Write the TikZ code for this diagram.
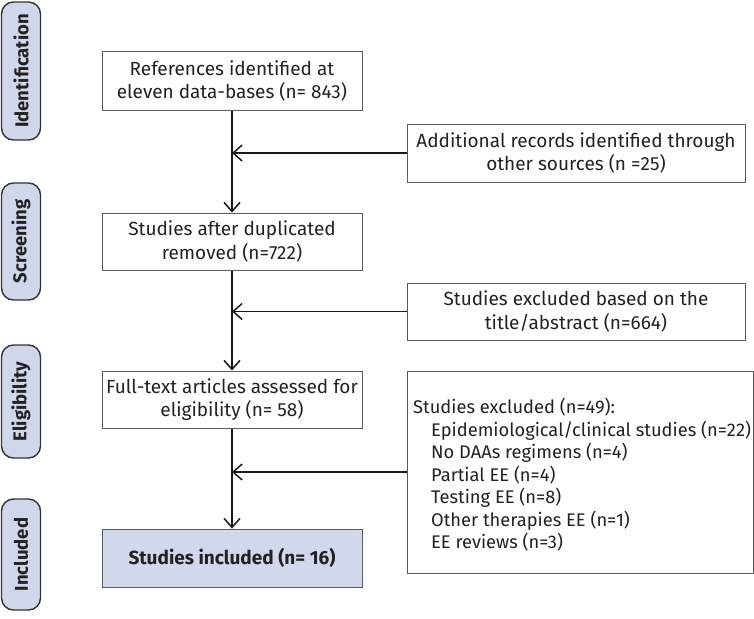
\documentclass[tikz,border=0pt]{standalone}
\usepackage{fontspec}
\setmainfont{Fira Sans}
\usetikzlibrary{arrows.meta}
\definecolor{pillfill}{HTML}{D0D7EB}
\definecolor{incfill}{HTML}{D2D8EC}
\definecolor{boxline}{HTML}{5A5A5A}
\definecolor{txt}{HTML}{222222}
\tikzset{
  pill/.style={draw=black!80, line width=1.4pt, fill=pillfill, rounded corners=12pt,
    minimum width=39pt, inner sep=0pt, text=txt, font=\fontsize{18.5}{20}\selectfont\bfseries},
  flowbox/.style={draw=boxline, line width=1pt, fill=white, inner sep=0pt, align=center,
    text=txt, font=\fontsize{19}{23.5}\selectfont},
  flowarrow/.style={draw=black!90, line width=1.5pt, -{Straight Barb[length=9pt,width=16pt,line width=1.5pt]}},
  flowline/.style={draw=black!90, line width=1.5pt}
}
\begin{document}
\begin{tikzpicture}[x=1pt,y=-1pt]
\useasboundingbox (0,0) rectangle (754,618);
% side pills
\node[pill, minimum height=138pt] (pid) at (21,71) {\rotatebox{90}{Identification}};
\node[pill, minimum height=117pt] (psc) at (21,241.5) {\rotatebox{90}{Screening}};
\node[pill, minimum height=113pt] (pel) at (21,401.5) {\rotatebox{90}{Eligibility}};
\node[pill, minimum height=111pt] (pin) at (21,554.5) {\rotatebox{90}{Included}};
% main boxes
\node[flowbox, minimum width=260pt, minimum height=58pt] (b1) at (232,81)
  {References identified at\\eleven data-bases (n= 843)};
\node[flowbox, minimum width=338pt, minimum height=58pt] (b2) at (576,153)
  {Additional records identified through\\other sources (n =25)};
\node[flowbox, minimum width=260pt, minimum height=57pt] (b3) at (232,241.5)
  {Studies after duplicated\\removed (n=722)};
\node[flowbox, minimum width=338pt, minimum height=57pt] (b4) at (576,311.5)
  {Studies excluded based on the\\title/abstract (n=664)};
\node[flowbox, minimum width=260pt, minimum height=57pt] (b5) at (232,399.5)
  {Full-text articles assessed for\\eligibility (n= 58)};
\node[flowbox, minimum width=346pt, minimum height=202pt] (b6) at (580,472) {};
\node[anchor=west, align=left, text=txt, inner sep=0pt, font=\fontsize{18.3}{22.5}\selectfont] (b6t) at (413,475)
  {Studies excluded (n=49):\\
   \hspace*{18pt}Epidemiological/clinical studies (n=22)\\
   \hspace*{18pt}No DAAs regimens (n=4)\\
   \hspace*{18pt}Partial EE (n=4)\\
   \hspace*{18pt}Testing EE (n=8)\\
   \hspace*{18pt}Other therapies EE (n=1)\\
   \hspace*{18pt}EE reviews (n=3)};
\node[flowbox, fill=incfill, minimum width=260pt, minimum height=58pt, font=\fontsize{19}{23.5}\selectfont\bfseries] (b7) at (232,558)
  {Studies included (n= 16)};
% connectors
\draw[flowarrow] (b1.south) -- (b3.north);
\draw[flowarrow] (b3.south) -- (b5.north);
\draw[flowarrow] (b5.south) -- (b7.north);
\draw[flowarrow] (b2.west) -- (b2.west -| b1.south);
\draw[flowarrow] (b4.west) -- (b4.west -| b3.south);
\draw[flowarrow] (b6.west) -- (b6.west -| b5.south);
\end{tikzpicture}
\end{document}
